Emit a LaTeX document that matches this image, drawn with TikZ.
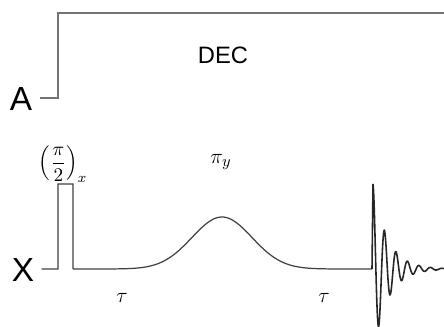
\documentclass[tikz,border=0pt]{standalone}
\usepackage{amsmath}
\usepackage{fontspec}
\newfontfamily\chanfont{Liberation Sans}
\usepackage{tikz}
\usetikzlibrary{positioning}

\begin{document}
\begin{tikzpicture}[
  x=0.02cm, y=-0.02cm,
  chan/.style={font=\chanfont\fontsize{19}{22}\selectfont, inner sep=0pt},
  declbl/.style={font=\chanfont\fontsize{13.5}{16}\selectfont, inner sep=0pt},
  lbl/.style={font=\fontsize{13}{15}\selectfont, inner sep=0pt},
  fraclbl/.style={font=\fontsize{11}{13}\selectfont, inner sep=0pt},
  rail/.style={line width=0.7pt, draw=black!55},
  seq/.style={line width=0.7pt, draw=black!75},
  fid/.style={line width=0.9pt, draw=black!85}
]
\useasboundingbox (0,0) rectangle (444,327);

% ── Channel A: decoupling ──
\node[chan] (chA) at (21,99) {A};
\coordinate (aon) at (58,98);
\draw[rail] ([xshift=4pt]chA.east |- aon) -- (aon) -- (58,13) -- (444,13);
\node[declbl] (dec) at (223,55) {DEC};

% ── Channel X: pulses ──
\node[chan] (chX) at (23,270) {X};
\coordinate (xon) at (58,269);
\draw[seq] ([xshift=4pt]chX.east |- xon) -- (xon) -- (58,184) -- (73,184) -- (73,269)
  -- plot[domain=73:372, samples=120] (\x, {269-52*exp(-((\x-222)/30)^2/2)});

% FID
\draw[fid] (372,269) -- plot[domain=1:72, samples=260]
  (372+\x, {269-85*exp(-(\x-1)/14.4)*cos(180*(\x-1)/5.75)});

% ── Labels ──
\node[fraclbl] (p90) at (63,164) {$\displaystyle\left(\frac{\pi}{2}\right)_{x}$};
\node[lbl] (p180) at (221,162) {$\pi_y$};
\node[lbl] (tau1) at (122,298) {$\tau$};
\node[lbl] (tau2) at (324,298) {$\tau$};

\end{tikzpicture}
\end{document}
